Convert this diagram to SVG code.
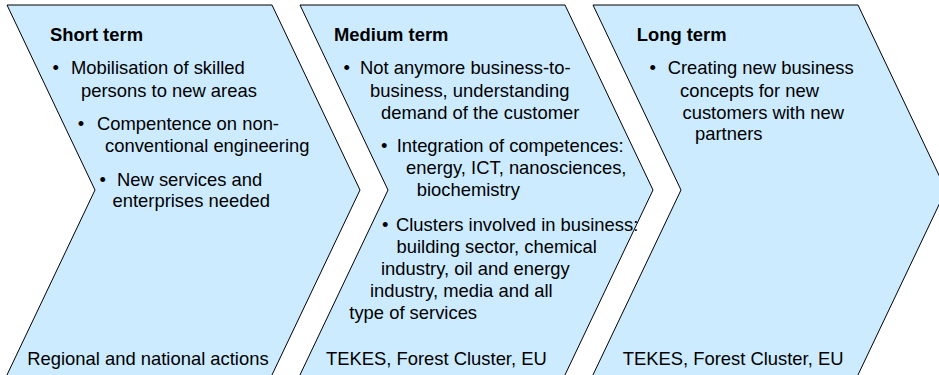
<svg xmlns="http://www.w3.org/2000/svg" width="939" height="375" viewBox="0 0 939 375">
<style>
.chev{fill:#CCEBFF;stroke:#000;stroke-width:1}
text{font-family:"Liberation Sans",Arial,sans-serif;font-size:18.4px;fill:#000}
.t{font-weight:bold}
</style>
<rect width="939" height="375" fill="#fff"/>
<g id="short-term">
<polygon class="chev" points="7,5 272,5 360,190 271,377 6,377 95,190"/>
<text class="t" x="50" y="41">Short term</text>
<text x="52.5" y="73.5">•</text><text x="71" y="73.5">Mobilisation of skilled</text>
<text x="81" y="96.5">persons to new areas</text>
<text x="77.8" y="129.5">•</text><text x="97" y="129.5">Compentence on non-</text>
<text x="105" y="151.5">conventional engineering</text>
<text x="99.5" y="185.5">•</text><text x="117" y="185.5">New services and</text>
<text x="112.5" y="207">enterprises needed</text>
<text x="27.3" y="365">Regional and national actions</text>
</g>
<g id="medium-term">
<polygon class="chev" points="300,5 565,5 653,190 564,377 299,377 388,190"/>
<text class="t" x="334" y="41">Medium term</text>
<text x="343.5" y="73.5">•</text><text x="360" y="73.5">Not anymore business-to-</text>
<text x="370" y="96.5">business, understanding</text>
<text x="381" y="118.5">demand of the customer</text>
<text x="381" y="152">•</text><text x="396.7" y="152">Integration of competences:</text>
<text x="406" y="174">energy, ICT, nanosciences,</text>
<text x="416.7" y="196">biochemistry</text>
<text x="382" y="231">•</text><text x="396" y="231">Clusters involved in business:</text>
<text x="396.5" y="252.5">building sector, chemical</text>
<text x="381" y="274.5">industry, oil and energy</text>
<text x="370" y="297">industry, media and all</text>
<text x="349.3" y="318.5">type of services</text>
<text x="326" y="365">TEKES, Forest Cluster, EU</text>
</g>
<g id="long-term">
<polygon class="chev" points="593,5 858,5 946,190 857,377 592,377 681,190"/>
<text class="t" x="636.7" y="41">Long term</text>
<text x="649.5" y="73.5">•</text><text x="667.7" y="73.5">Creating new business</text>
<text x="680" y="96.5">concepts for new</text>
<text x="682.5" y="118.5">customers with new</text>
<text x="695" y="140">partners</text>
<text x="622.7" y="365">TEKES, Forest Cluster, EU</text>
</g>
</svg>
